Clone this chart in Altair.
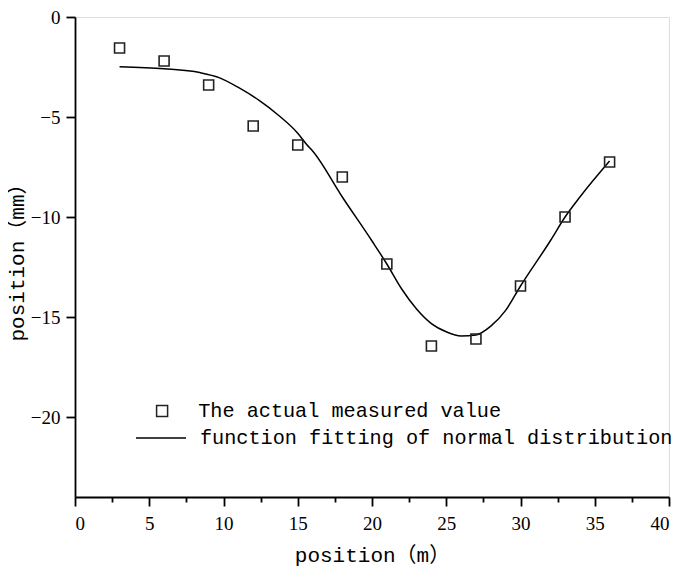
import altair as alt
import pandas as pd

# measured values
meas_x = [3, 6, 9, 12, 15, 18, 21, 24, 27, 30, 33, 36]
meas_y = [-1.55, -2.2, -3.4, -5.45, -6.4, -8.0, -12.35, -16.45, -16.1, -13.45, -10.0, -7.25]

# fitted curve
fit_x = [3, 6, 8.4, 9.7, 11, 12.4, 13.7, 15, 15.6, 16, 18, 20, 21, 22, 23, 24, 25, 26, 27, 28, 29, 30, 32, 33, 34, 36]
fit_y = [-2.49, -2.59, -2.78, -3.03, -3.52, -4.17, -4.91, -5.81, -6.38, -6.7, -9.0, -11.2, -12.35, -13.6,
         -14.6, -15.33, -15.74, -15.95, -15.9, -15.46, -14.67, -13.45, -11.2, -10.0, -9.0, -7.2]

x_major = [0, 5, 10, 15, 20, 25, 30, 35, 40]
x_minor = [2.5, 7.5, 12.5, 17.5, 22.5, 27.5, 32.5, 37.5]
y_ticks = [-20, -15, -10, -5, 0]

meas_label = "The actual measured value"
fit_label = "function fitting of normal distribution"

pts = pd.DataFrame({"x": meas_x, "y": meas_y, "s": meas_label})
fit = pd.DataFrame({"x": fit_x, "y": fit_y, "f": fit_label})

MONO = "Liberation Mono, Noto Sans CJK SC"
SERIF = "Liberation Serif"

xscale = alt.Scale(domain=[0, 40], nice=False, zero=False)
yscale = alt.Scale(domain=[-24, 0], nice=False, zero=False)

xaxis = alt.Axis(values=x_major, title="position（m）", titleFont=MONO, titleFontSize=21,
                 titleFontWeight="normal", titleColor="black", titleBaseline="middle",
                 titleY=58, labelFont=SERIF, labelFontSize=19, labelColor="black",
                 labelPadding=8, tickSize=9, tickWidth=1.8, domainWidth=1.8,
                 tickColor="black", domainColor="black", grid=False, orient="bottom")
xaxis_minor = alt.Axis(values=x_minor, title=None, labels=False, tickSize=5, tickWidth=1.8,
                       tickColor="black", domain=False, grid=False, orient="bottom")
yaxis = alt.Axis(values=y_ticks, title="position（mm）", titleFont=MONO, titleFontSize=21,
                 titleFontWeight="normal", titleColor="black", titleAngle=270,
                 titleBaseline="middle", titleAlign="center", titleX=-58, titleY=240,
                 labelFont=SERIF, labelFontSize=19, labelColor="black", labelPadding=6,
                 tickSize=9, tickWidth=1.8, domainWidth=1.8, tickColor="black",
                 domainColor="black", grid=False)

points = alt.Chart(pts).mark_point(shape="square", filled=False, size=100, strokeWidth=1.6,
                                   color="#222222", opacity=1).encode(
    x=alt.X("x:Q", scale=xscale, axis=xaxis),
    y=alt.Y("y:Q", scale=yscale, axis=yaxis),
    shape=alt.Shape("s:N", scale=alt.Scale(range=["square"]),
                    legend=alt.Legend(title=None, orient="none", legendX=77, legendY=384,
                                      symbolSize=121, symbolStrokeWidth=1.5,
                                      symbolStrokeColor="#222222", symbolFillColor="transparent",
                                      labelFont=MONO, labelFontSize=20.2, labelColor="black",
                                      labelOffset=26, padding=0, labelLimit=700)),
)

minor = alt.Chart(pts).mark_point(opacity=0).encode(
    x=alt.X("x:Q", scale=xscale, axis=xaxis_minor),
)

line = alt.Chart(fit).mark_line(color="black", strokeWidth=1.5, interpolate="monotone").encode(
    x=alt.X("x:Q", scale=xscale, axis=None),
    y=alt.Y("y:Q", scale=yscale),
    color=alt.Color("f:N", scale=alt.Scale(range=["black"]),
                    legend=alt.Legend(title=None, orient="none", legendX=60, legendY=395,
                                      symbolType="stroke", symbolSize=2500, symbolStrokeWidth=1.5,
                                      labelFont=MONO, labelFontSize=20.2, labelColor="black",
                                      labelOffset=13, padding=0, labelLimit=700)),
)

chart = alt.layer(minor, line, points).resolve_axis(x="independent").resolve_legend(
    shape="independent", color="independent"
).properties(
    width=594, height=480,
    autosize=alt.AutoSizeParams(type="none"),
    padding={"left": 67, "top": 9, "right": 8, "bottom": 72},
).configure_view(stroke=None).configure(background="white")

chart.save("out.html", embed_options={"renderer": "svg", "actions": False})
